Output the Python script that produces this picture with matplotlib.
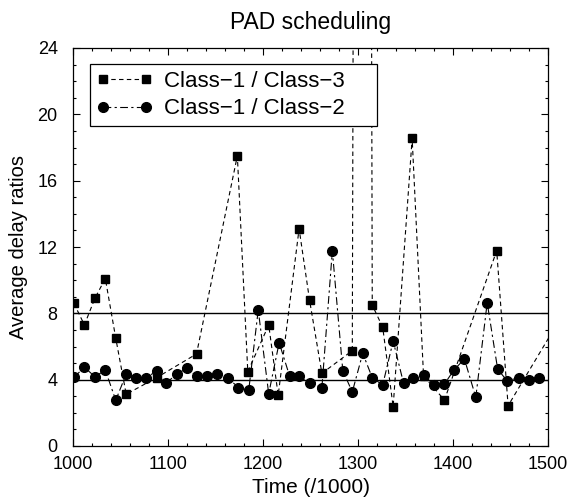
import matplotlib
matplotlib.use("Agg")
import matplotlib.pyplot as plt
from matplotlib.ticker import MultipleLocator

plt.rcParams['font.family'] = ['Liberation Sans', 'DejaVu Sans']

# Class-1 / Class-3 (squares)
t13 = [1001, 1012, 1023, 1034, 1045, 1056, 1088, 1130, 1173, 1184, 1206, 1216,
       1238, 1249, 1262, 1294, 1305, 1315, 1326, 1337, 1357, 1369, 1391, 1446,
       1458, 1512]
r13 = [8.6, 7.3, 8.9, 10.1, 6.5, 3.12, 4.12, 5.55, 17.5, 4.48, 7.3, 3.06,
       13.1, 8.8, 4.38, 5.75, 250.0, 8.5, 7.16, 2.37, 18.55, 4.22, 2.77, 11.78,
       2.43, 7.6]

# Class-1 / Class-2 (circles)
t12 = [1001, 1012, 1023, 1034, 1045, 1056, 1066, 1077, 1088, 1098, 1109, 1120,
       1130, 1141, 1152, 1163, 1174, 1185, 1195, 1206, 1217, 1228, 1238, 1249,
       1262, 1273, 1284, 1294, 1305, 1315, 1326, 1337, 1348, 1358, 1369, 1380,
       1391, 1401, 1412, 1424, 1436, 1447, 1457, 1469, 1480, 1490]
r12 = [4.14, 4.75, 4.18, 4.58, 2.76, 4.34, 4.08, 4.12, 4.52, 3.78, 4.34, 4.68,
       4.22, 4.22, 4.34, 4.12, 3.52, 3.38, 8.2, 3.15, 6.23, 4.22, 4.22, 3.78,
       3.52, 11.78, 4.54, 3.26, 5.59, 4.12, 3.68, 6.33, 3.78, 4.12, 4.28, 3.68,
       3.74, 4.58, 5.25, 2.94, 8.64, 4.64, 3.92, 4.12, 3.98, 4.08]

ref_levels = [8, 4]
labels = ["Class\u22121 / Class\u22123", "Class\u22121 / Class\u22122"]
title = "PAD scheduling"
xlabel = "Time (/1000)"
ylabel = "Average delay ratios"

fig = plt.figure(figsize=(5.71, 5.01), dpi=100)
ax = fig.add_axes([73/571, 1-446/501, 475/571, 398/501])

for lv in ref_levels:
    ax.axhline(lv, color='black', lw=1.0, zorder=1)

ax.plot(t13, r13, color='black', lw=0.8, linestyle=(0, (4, 3)),
        marker='s', markersize=6.2, label=labels[0], zorder=3)
ax.plot(t12, r12, color='black', lw=0.8, linestyle=(0, (7, 3, 2, 3)),
        marker='o', markersize=7.0, label=labels[1], zorder=3)

ax.set_xlim(1000, 1500)
ax.set_ylim(0, 24)
ax.xaxis.set_major_locator(MultipleLocator(100))
ax.xaxis.set_minor_locator(MultipleLocator(20))
ax.yaxis.set_major_locator(MultipleLocator(4))
ax.yaxis.set_minor_locator(MultipleLocator(1))
ax.tick_params(which='both', direction='in', top=True, right=True,
               labelsize=13, width=0.8)
ax.tick_params(which='major', length=5)
ax.tick_params(which='minor', length=2.5)
ax.tick_params(axis='x', which='both', pad=7)
ax.tick_params(axis='y', which='both', pad=11)
for s in ax.spines.values():
    s.set_linewidth(0.9)

ax.set_title(title, fontsize=16.5, pad=14)
ax.set_xlabel(xlabel, fontsize=15, labelpad=4)
ax.set_ylabel(ylabel, fontsize=14.5, labelpad=7)

top = 1 - 16/398
leg = ax.legend(loc='upper left', bbox_to_anchor=(17/475, 0.5, 287/475, top - 0.5),
                mode='expand', borderaxespad=0, fontsize=16, frameon=True,
                fancybox=False, edgecolor='black', framealpha=1,
                handlelength=2.5, numpoints=2, borderpad=0.3,
                labelspacing=0.3, handletextpad=0.55)
leg.get_frame().set_linewidth(0.9)

fig.savefig("out.png", dpi=100)
